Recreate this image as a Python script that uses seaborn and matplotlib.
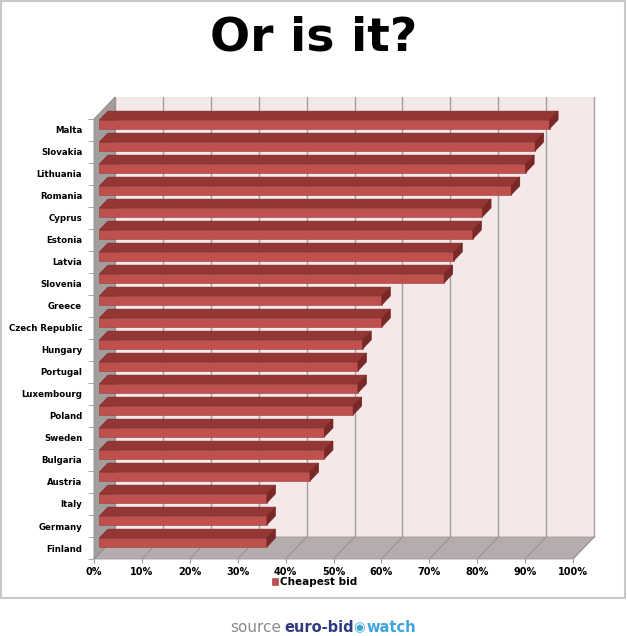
import matplotlib
matplotlib.use("Agg")
import matplotlib.pyplot as plt
from matplotlib.patches import Polygon, Rectangle
import seaborn as sns

# data (share of the most expensive bid, %)
countries = ["Malta", "Slovakia", "Lithuania", "Romania", "Cyprus", "Estonia",
             "Latvia", "Slovenia", "Greece", "Czech Republic", "Hungary",
             "Portugal", "Luxembourg", "Poland", "Sweden", "Bulgaria",
             "Austria", "Italy", "Germany", "Finland"]
cheapest_bid = [94, 91, 89, 86, 80, 78, 74, 72, 59, 59, 55, 54, 54, 53,
                47, 47, 44, 35, 35, 35]
pct_ticks = list(range(0, 101, 10))
pct_labels = ["%d%%" % t for t in pct_ticks]

sns.set_style("white")
plt.rcParams['font.family'] = ['DejaVu Sans']

W, H = 627, 636
fig = plt.figure(figsize=(W / 100, H / 100), dpi=100)
ax = fig.add_axes([94 / W, 77 / H, 479 / W, 440 / H])

front_col = "#c0504d"
top_col = "#943634"
side_col = "#7a2826"

sns.barplot(x=cheapest_bid, y=countries, orient="h", color=front_col,
            saturation=1, width=0.4, edgecolor="#9a3a38", linewidth=0.4,
            label="Cheapest bid", ax=ax, zorder=3)
bars = list(ax.patches)

ax.set_xlim(0, 100)
ax.set_ylim(len(countries) - 0.5, -0.5)

# oblique depth of the "3d" box, in data units
DX = 21 / 479 * 100
DY = -1.0
F1, F2 = 0.25, 0.66
dd = F2 - F1

y_top, y_bot = -0.5, len(countries) - 0.5

# walls and floor
back = Polygon([(DX, y_top + DY), (100 + DX, y_top + DY),
                (100 + DX, y_bot + DY), (DX, y_bot + DY)],
               facecolor="#f4e8e8", edgecolor="none", zorder=0.1, clip_on=False)
floor = Polygon([(0, y_bot), (100, y_bot), (100 + DX, y_bot + DY), (DX, y_bot + DY)],
                facecolor="#b5adad", edgecolor="#a09a9a", lw=0.6, zorder=0.2, clip_on=False)
left = Polygon([(0, y_top), (DX, y_top + DY), (DX, y_bot + DY), (0, y_bot)],
               facecolor="#a29e9e", edgecolor="#8e8a8a", lw=0.6, zorder=0.3, clip_on=False)
for p in (back, floor, left):
    ax.add_patch(p)

for t in pct_ticks:
    ax.plot([t + DX, t + DX], [y_top + DY, y_bot + DY], color="#a4a0a0", lw=1,
            zorder=0.15, clip_on=False)
    ax.plot([t + DX, t], [y_bot + DY, y_bot], color="#9a9494", lw=0.8,
            zorder=0.25, clip_on=False)

# shift the bars into the box and give them a top and an end face
for p in bars:
    x0 = p.get_x() + F1 * DX
    y0 = p.get_y() + F1 * DY
    w = p.get_width()
    h = p.get_height()
    p.set_x(x0)
    p.set_y(y0)
    x1 = x0 + w
    y1 = y0 + h
    topf = Polygon([(x0, y0), (x1, y0), (x1 + dd * DX, y0 + dd * DY),
                    (x0 + dd * DX, y0 + dd * DY)],
                   facecolor=top_col, edgecolor="#7e2c2a", lw=0.4, zorder=3, clip_on=False)
    sidef = Polygon([(x1, y0), (x1 + dd * DX, y0 + dd * DY),
                     (x1 + dd * DX, y1 + dd * DY), (x1, y1)],
                    facecolor=side_col, edgecolor="#6a2220", lw=0.4, zorder=3, clip_on=False)
    ax.add_patch(topf)
    ax.add_patch(sidef)

for s in ax.spines.values():
    s.set_visible(False)
ax.set_facecolor("none")
ax.set_xlabel("")
ax.set_ylabel("")

ax.set_xticks(pct_ticks)
ax.set_xticklabels(pct_labels, fontsize=7, fontweight="bold")
ax.tick_params(axis="x", length=3, color="#999999", pad=3, bottom=True,
               labelcolor="black")
ax.tick_params(axis="y", length=0, pad=8.5, labelsize=6.2, labelcolor="black")
for lab in ax.get_yticklabels():
    lab.set_fontweight("bold")
ax.set_yticks([i - 0.5 for i in range(len(countries) + 1)], minor=True)
ax.tick_params(axis="y", which="minor", length=4, color="#999999", left=True)

leg = ax.legend(loc="center", bbox_to_anchor=(315 / W, 1 - 582 / H),
                bbox_transform=fig.transFigure, frameon=False, handlelength=0.55,
                handleheight=0.6, handletextpad=0.2, prop=dict(weight="bold", size=7.5))
for txt in leg.get_texts():
    txt.set_color("black")

fig.text(0.5, 1 - 38 / H, "Or is it?", ha="center", va="center",
         fontsize=34, fontweight="bold", color="black")

fig.patches.append(Rectangle((1 / W, 38 / H), 624 / W, 597 / H,
                             transform=fig.transFigure, fill=False,
                             edgecolor="#c8c8c8", lw=1.5))

fy = 1 - 628 / H
fig.text(230 / W, fy, "source", ha="left", va="center", fontsize=11, color="#8a8a8a")
fig.text(284 / W, fy, "euro-bid", ha="left", va="center", fontsize=10.5,
         fontweight="bold", color="#2e3b7e")
fig.text(353 / W, fy, "\u25c9", ha="left", va="center", fontsize=9.5, color="#3fa6d6")
fig.text(366 / W, fy, "watch", ha="left", va="center", fontsize=10.5,
         fontweight="bold", color="#3da5d9")

fig.savefig("out.png", dpi=100, facecolor="white")
